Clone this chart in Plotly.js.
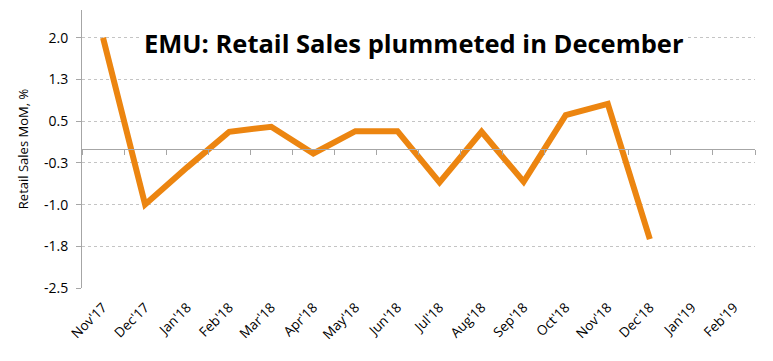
<!DOCTYPE html>
<html>
<head>
<meta charset="utf-8">
<script src="https://cdn.plot.ly/plotly-3.0.1.min.js"></script>
<style>html,body{margin:0;padding:0;background:#fff;}#chart{width:773px;height:361px;}</style>
</head>
<body>
<div id="chart"></div>
<script>
// Data
const months = ["Nov'17","Dec'17","Jan'18","Feb'18","Mar'18","Apr'18","May'18","Jun'18","Jul'18","Aug'18","Sep'18","Oct'18","Nov'18","Dec'18","Jan'19","Feb'19"];
const retailSalesMoM = [2.0,-1.0,-0.33,0.31,0.4,-0.08,0.32,0.32,-0.6,0.31,-0.59,0.61,0.81,-1.62,null,null];
const yTickVals = [-2.5,-1.75,-1.0,-0.25,0.5,1.25,2.0];
const yTickText = ["-2.5","-1.8","-1.0","-0.3","0.5","1.3","2.0"];
const chartTitle = "EMU: Retail Sales plummeted in December";
const yAxisTitle = "Retail Sales MoM, %";

const yRange = [-2.5, 2.5];
const zeroPos = (0 - yRange[0]) / (yRange[1] - yRange[0]);

const traces = [
  {
    x: months, y: retailSalesMoM, type: 'scatter', mode: 'lines',
    line: {color: '#EC8510', width: 6}, connectgaps: false,
    hoverinfo: 'x+y', xaxis: 'x', yaxis: 'y'
  },
  {
    x: months, y: months.map(() => 0), type: 'scatter', mode: 'lines',
    line: {width: 0}, opacity: 0, hoverinfo: 'skip', showlegend: false,
    xaxis: 'x2', yaxis: 'y'
  }
];

const layout = {
  width: 773, height: 361,
  margin: {l: 82, r: 18, t: 10, b: 73},
  paper_bgcolor: '#fff', plot_bgcolor: '#fff',
  showlegend: false,
  font: {family: 'Open Sans, sans-serif', color: '#000'},
  xaxis: {
    type: 'category', categoryorder: 'array', categoryarray: months,
    range: [-0.5, months.length - 0.5],
    showgrid: false, zeroline: false, showline: false,
    ticks: '', tickangle: -45, ticklabelstandoff: 8,
    tickfont: {size: 13.5, color: '#000'},
    fixedrange: true
  },
  xaxis2: {
    type: 'category', categoryorder: 'array', categoryarray: months,
    range: [-0.5, months.length - 0.5],
    overlaying: 'x', anchor: 'free', position: zeroPos, side: 'bottom',
    showgrid: false, zeroline: false, showline: true, linecolor: '#a6a6a6', linewidth: 1,
    ticks: 'outside', tickson: 'boundaries', ticklen: 5, tickcolor: '#a6a6a6',
    showticklabels: false, fixedrange: true
  },
  yaxis: {
    range: yRange, tickvals: yTickVals, ticktext: yTickText,
    showgrid: true, gridcolor: '#c4c4c4', griddash: 'dot', gridwidth: 1,
    zeroline: false, showline: true, linecolor: '#a6a6a6', linewidth: 1,
    ticks: 'outside', ticklen: 5, tickcolor: '#a6a6a6', ticklabelstandoff: 5,
    tickfont: {size: 14, color: '#000'},
    title: {text: yAxisTitle, font: {size: 13, color: '#000'}, standoff: 12},
    fixedrange: true
  },
  annotations: [{
    text: '<b>' + chartTitle + '</b>',
    xref: 'paper', yref: 'paper', x: 0.493, y: 0.88,
    xanchor: 'center', yanchor: 'middle', showarrow: false,
    font: {size: 25.5, color: '#000', family: 'Open Sans, sans-serif'},
    bgcolor: '#fff', borderpad: 2
  }]
};

Plotly.newPlot('chart', traces, layout, {displayModeBar: false, staticPlot: true});
</script>
</body>
</html>
